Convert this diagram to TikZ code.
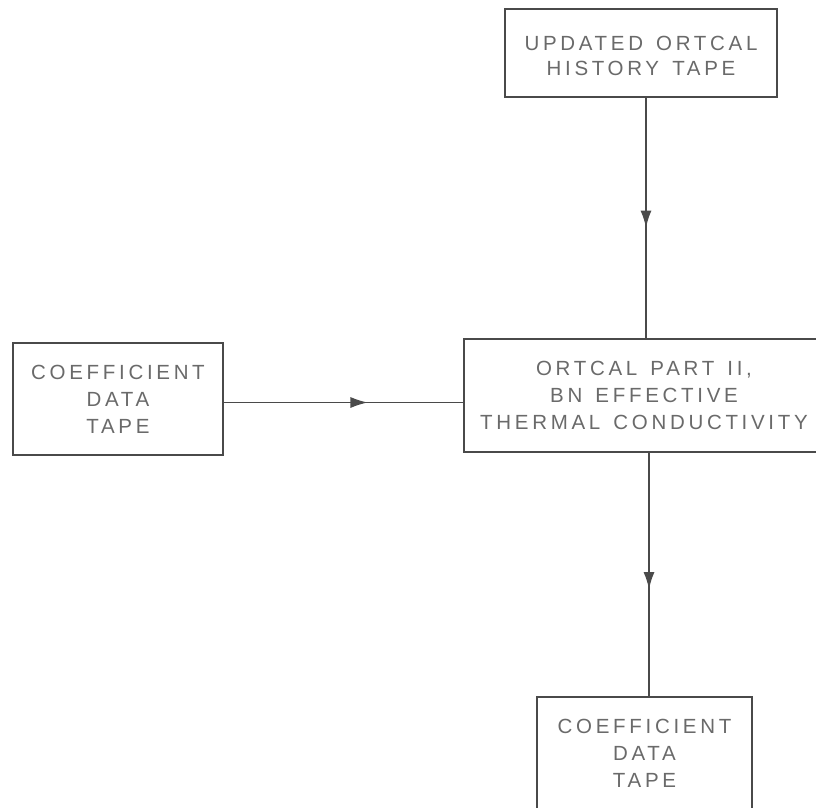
\documentclass[tikz,border=0pt]{standalone}
\usepackage{fontspec}
\usetikzlibrary{arrows.meta,decorations.markings}
\newfontfamily\lab[LetterSpace=18,WordSpace=1.4]{Liberation Sans}
\definecolor{ink}{HTML}{4A4A4A}
\definecolor{txt}{HTML}{6A6A6A}
\tikzset{
  box/.style={draw=ink, line width=1.4pt, rectangle, inner sep=0pt, align=center,
    text=txt, font=\lab\fontsize{20.5}{27}\selectfont},
  conn/.style={draw=ink, line width=1.4pt},
  midarrow/.style={decoration={markings, mark=at position #1 with {\arrow{Latex[length=17pt,width=11pt]}}}, postaction=decorate}
}
\begin{document}
\begin{tikzpicture}[x=1pt,y=-1pt]
\fill[white] (0,0) rectangle (816,807);
\useasboundingbox (0,0) rectangle (816,807);
\clip (0,0) rectangle (816,807);
\node[box, minimum width=272pt, minimum height=88pt, font=\lab\fontsize{20.5}{25}\selectfont] (top) at (641,53) {\rule{0pt}{21pt}UPDATED ORTCAL\\HISTORY TAPE};
\node[box, minimum width=210pt, minimum height=112pt] (left) at (118,399) {COEFFICIENT\\DATA\\TAPE};
\node[box, minimum width=360pt, minimum height=113pt] (mid) at (644,395.5) {ORTCAL PART II,\\BN EFFECTIVE\\THERMAL CONDUCTIVITY};
\node[box, minimum width=215pt, minimum height=112pt] (bot) at (644.5,753) {COEFFICIENT\\DATA\\TAPE};
\draw[conn, midarrow=0.54] ([xshift=5pt]top.south) -- ([xshift=5pt]top.south |- mid.north);
\draw[conn, line width=1.1pt, midarrow=0.6] ([yshift=-3.5pt]left.east) -- ([yshift=-3.5pt]left.east -| mid.west);
\draw[conn, midarrow=0.56] ([xshift=5pt]mid.south) -- ([xshift=5pt]mid.south |- bot.north);
\end{tikzpicture}
\end{document}
